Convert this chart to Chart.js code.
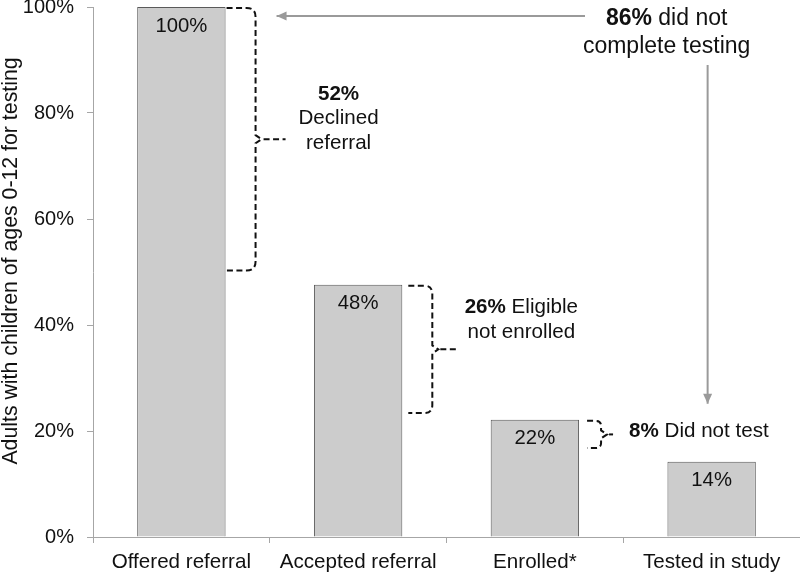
<!DOCTYPE html>
<html><head><meta charset="utf-8">
<script src="https://cdn.jsdelivr.net/npm/chart.js@4"></script>
<style>html,body{margin:0;padding:0;background:#fff}</style>
</head><body>
<canvas id="c" width="800" height="577"></canvas>
<script>
const categories = ['Offered referral', 'Accepted referral', 'Enrolled*', 'Tested in study'];
const values = [100, 47.6, 22.1, 14.2];
const yTickStep = 20;
const yMax = 100;
const yTitle = 'Adults with children of ages 0-12 for testing';
// value spans covered by each dashed brace
const braceTop = [100, 47.6, 22.1];
const braceBottom = [50.3, 23.4, 16.8];
const braceLabels = [
  [[['52%', true]], [['Declined', false]], [['referral', false]]],
  [[['26%', true], [' Eligible', false]], [['not enrolled', false]]],
  [[['8%', true], [' Did not test', false]]]
];
const totalLabel = [[['86%', true], [' did not', false]], [['complete testing', false]]];

const FONT = '"Liberation Sans", Arial, Helvetica, sans-serif';
const AXIS_GRAY = '#a6a6a6';
const TEXT = '#111111';

function drawRuns(ctx, lines, cx, y0, lh, size, align) {
  lines.forEach((parts, li) => {
    const widths = parts.map(p => { ctx.font = (p[1] ? 'bold ' : '') + size + 'px ' + FONT; return ctx.measureText(p[0]).width; });
    const total = widths.reduce((a, b) => a + b, 0);
    let x = align === 'left' ? cx : cx - total / 2;
    parts.forEach((p, i) => {
      ctx.font = (p[1] ? 'bold ' : '') + size + 'px ' + FONT;
      ctx.fillText(p[0], x, y0 + li * lh);
      x += widths[i];
    });
  });
}

function brace(ctx, xs, xv, yt, yb, tipEnd, r) {
  const ym = (yt + yb) / 2;
  ctx.beginPath();
  ctx.moveTo(xs, yt);
  ctx.lineTo(xv - r, yt);
  ctx.quadraticCurveTo(xv, yt, xv, yt + r);
  ctx.lineTo(xv, ym - 4);
  ctx.lineTo(xv + 6, ym);
  ctx.lineTo(xv, ym + 4);
  ctx.lineTo(xv, yb - r);
  ctx.quadraticCurveTo(xv, yb, xv - r, yb);
  ctx.lineTo(xs, yb);
  ctx.stroke();
  ctx.beginPath();
  ctx.moveTo(xv + 8, ym);
  ctx.lineTo(tipEnd, ym);
  ctx.stroke();
}

function arrow(ctx, x1, y1, x2, y2) {
  ctx.beginPath(); ctx.moveTo(x1, y1); ctx.lineTo(x2, y2); ctx.stroke();
  const a = Math.atan2(y2 - y1, x2 - x1), L = 10, W = 4.5;
  ctx.beginPath();
  ctx.moveTo(x2, y2);
  ctx.lineTo(x2 - L * Math.cos(a) + W * Math.sin(a), y2 - L * Math.sin(a) - W * Math.cos(a));
  ctx.lineTo(x2 - L * Math.cos(a) - W * Math.sin(a), y2 - L * Math.sin(a) + W * Math.cos(a));
  ctx.closePath(); ctx.fill();
}

const annot = {
  id: 'annot',
  afterDraw(chart) {
    const ctx = chart.ctx, ys = chart.scales.y, area = chart.chartArea;
    const bars = chart.getDatasetMeta(0).data;
    ctx.save();
    // value labels inside bars
    ctx.fillStyle = TEXT;
    ctx.font = '20.3px ' + FONT;
    ctx.textAlign = 'center';
    ctx.textBaseline = 'middle';
    bars.forEach((b, i) => ctx.fillText(Math.round(values[i]) + '%', b.x, b.y + 19));

    // y title
    ctx.save();
    ctx.font = '21.3px ' + FONT;
    ctx.translate(11, (area.top + area.bottom) / 2 - 11);
    ctx.rotate(-Math.PI / 2);
    ctx.textBaseline = 'middle';
    ctx.fillText(yTitle, 0, 0);
    ctx.restore();

    // braces
    ctx.strokeStyle = '#111';
    ctx.lineWidth = 2;
    ctx.setLineDash([6, 3.5]);
    const geo = [[1, 30, 60, 9], [6, 30, 54, 8], [8, 22, 34, 5]];
    braceTop.forEach((t, i) => {
      const right = bars[i].x + bars[i].width / 2;
      const g = geo[i];
      brace(ctx, right + g[0], right + g[1], ys.getPixelForValue(t) + 1, ys.getPixelForValue(braceBottom[i]), right + g[2], g[3]);
    });
    ctx.setLineDash([]);

    // brace labels
    ctx.textAlign = 'left';
    ctx.textBaseline = 'alphabetic';
    const r0 = bars[0].x + bars[0].width / 2;
    const r1 = bars[1].x + bars[1].width / 2;
    const r2 = bars[2].x + bars[2].width / 2;
    const m0 = ys.getPixelForValue((braceTop[0] + braceBottom[0]) / 2);
    const m1 = ys.getPixelForValue((braceTop[1] + braceBottom[1]) / 2);
    const m2 = ys.getPixelForValue((braceTop[2] + braceBottom[2]) / 2);
    drawRuns(ctx, braceLabels[0], r0 + 113, m0 - 39, 24.5, 20.6, 'center');
    drawRuns(ctx, braceLabels[1], r1 + 119, m1 - 36, 25, 20.6, 'center');
    drawRuns(ctx, braceLabels[2], r2 + 50, m2 + 3, 25, 20.6, 'left');

    // arrows
    ctx.strokeStyle = '#9a9a9a';
    ctx.fillStyle = '#9a9a9a';
    ctx.lineWidth = 2;
    const b3 = bars[3];
    arrow(ctx, 585, area.top + 9, r0 + 51, area.top + 9);
    arrow(ctx, b3.x - 4, 65, b3.x - 4, b3.y - 58);

    // total label
    ctx.fillStyle = TEXT;
    drawRuns(ctx, totalLabel, b3.x - 45, 25, 28, 23, 'center');
    ctx.restore();
  }
};

new Chart(document.getElementById('c'), {
  type: 'bar',
  data: {
    labels: categories,
    datasets: [{
      data: values,
      backgroundColor: '#cccccc',
      borderColor: '#5a5a5a',
      borderWidth: 1,
      categoryPercentage: 1,
      barPercentage: 0.5
    }]
  },
  options: {
    responsive: false,
    animation: false,
    layout: { padding: 0 },
    plugins: { legend: { display: false }, tooltip: { enabled: false } },
    scales: {
      x: {
        grid: { display: true, offset: true, drawOnChartArea: false, drawTicks: true, tickLength: 6, color: AXIS_GRAY },
        border: { display: true, color: AXIS_GRAY, width: 1 },
        ticks: { color: TEXT, font: { family: FONT, size: 20.6 }, padding: 7, maxRotation: 0, autoSkip: false },
        afterFit(s) { s.height = 40; }
      },
      y: {
        min: 0, max: yMax,
        grid: { display: true, drawOnChartArea: false, drawTicks: true, tickLength: 6, color: AXIS_GRAY },
        border: { display: true, color: AXIS_GRAY, width: 1 },
        ticks: { stepSize: yTickStep, color: TEXT, font: { family: FONT, size: 20 }, padding: 13,
                 callback: v => v + '%' },
        title: { display: false },
        afterFit(s) { s.width = 93; s.paddingTop = 7; s.paddingBottom = 7; }
      }
    }
  },
  plugins: [annot]
});
</script>
</body></html>
